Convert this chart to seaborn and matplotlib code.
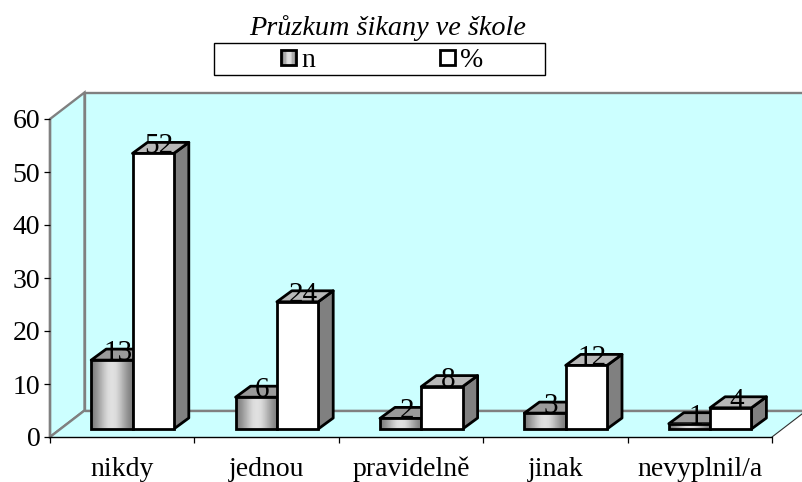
import numpy as np
import pandas as pd
import matplotlib
matplotlib.use("Agg")
import matplotlib.pyplot as plt
import seaborn as sns
from matplotlib.patches import Polygon, Rectangle
from matplotlib.transforms import Affine2D, IdentityTransform
from matplotlib.legend_handler import HandlerBase

categories = ["nikdy", "jednou", "pravidelně", "jinak", "nevyplnil/a"]
n_values = [13, 6, 2, 3, 1]
pct_values = [52, 24, 8, 12, 4]
series_names = ["n", "%"]
title_text = "Průzkum šikany ve škole"

sns.set_theme(style="white")
plt.rcParams["font.family"] = ["Liberation Serif", "DejaVu Serif"]
plt.rcParams["text.color"] = "black"

W, H = 803, 482
FS = 20
WALL = "#CCFFFF"
GREY = "#808080"

df = pd.DataFrame({
    "kategorie": categories * 2,
    "serie": [series_names[0]] * 5 + [series_names[1]] * 5,
    "hodnota": n_values + pct_values,
})

fig = plt.figure(figsize=(W / 100, H / 100), dpi=100, facecolor="white")
ax = fig.add_axes([50 / W, (H - 437) / H, 722 / W, 318 / H])
sns.barplot(data=df, x="kategorie", y="hodnota", hue="serie", hue_order=series_names,
            palette=["#BBBBBB", "white"], width=0.572, gap=0, dodge=True,
            edgecolor="black", linewidth=2, legend=False, errorbar=None,
            saturation=1, ax=ax)
ax.set_xlim(-0.5, 4.5)
ax.set_ylim(0, 60)
ax.set_xlabel("")
ax.set_ylabel("")
ax.patch.set_visible(False)
for s in ax.spines.values():
    s.set_visible(False)

# walls (depth offset in pixels)
DX, DY = 34.5, 26.5
LW = 1.7
back = ax.transAxes + Affine2D().translate(DX, DY)
ax.add_patch(Rectangle((0, 0), 1, 1, transform=back, fc=WALL, ec=GREY, lw=LW, zorder=0.2, clip_on=False))
px = lambda a, b: ax.transAxes.transform((a, b))
p00, p01, p10 = px(0, 0), px(0, 1), px(1, 0)
ident = IdentityTransform()
ax.add_patch(Polygon([p00, p01, p01 + (DX, DY), p00 + (DX, DY)], transform=ident,
                     fc=WALL, ec=GREY, lw=LW, zorder=0.3, clip_on=False))
ax.add_patch(Polygon([p00, p10, p10 + (DX, DY), p00 + (DX, DY)], transform=ident,
                     fc=WALL, ec="none", zorder=0.3, clip_on=False))
ax.plot([p00[0], p00[0] + DX], [p00[1], p00[1] + DY], color=GREY, lw=LW, transform=ident, zorder=0.4, clip_on=False)
ax.plot([p00[0] + DX, p10[0] + DX], [p00[1] + DY, p10[1] + DY], color=GREY, lw=LW, transform=ident, zorder=0.4, clip_on=False)
ax.plot([p00[0], p00[0]], [p00[1], p01[1]], color=GREY, lw=LW, transform=ident, zorder=0.5, clip_on=False)
ax.plot([p10[0], p10[0] + DX], [p10[1], p10[1] + DY], color="#303030", lw=0.8, transform=ident, zorder=0.5, clip_on=False)
ax.plot([p00[0], p10[0]], [p00[1], p10[1]], color="black", lw=1.0, transform=ident, zorder=0.6, clip_on=False)

# axis ticks
ax.set_yticks(np.arange(0, 61, 10))
ax.tick_params(axis="y", left=True, length=4, width=0.9, color="black", labelsize=FS, pad=3, labelcolor="black")
ax.set_xticks(range(5))
ax.set_xticklabels(categories)
ax.tick_params(axis="x", which="major", bottom=False, length=0, labelsize=FS, pad=14.3, labelcolor="black")
ax.set_xticks(np.arange(-0.5, 5), minor=True)
ax.tick_params(axis="x", which="minor", bottom=True, length=4, width=0.9, color="black")

# bars: pseudo-3D
SX, SY = 10.3, 8.0     # shift of the bar base from the front plane
BX, BY = 15.0, 11.0    # bar depth
shift = ax.transData + Affine2D().translate(SX, SY)
grad = np.array([[0.50, 0.58, 0.68, 0.78, 0.86, 0.88, 0.86, 0.78, 0.68, 0.58, 0.50]])
z = 2.0
series_cols = [("#808080", "#9A9A9A"), ("#808080", "#B8B8B8")]
label_vals = [n_values, pct_values]
for ci in range(5):
    for si, container in enumerate(ax.containers):
        patch = container.patches[ci]
        x, w, h = patch.get_x(), patch.get_width(), patch.get_height()
        a = shift.transform((x, 0)); b = shift.transform((x + w, 0))
        c = shift.transform((x + w, h)); d = shift.transform((x, h))
        v = np.array([BX, BY])
        side_c, top_c = series_cols[si]
        ax.add_patch(Polygon([b, c, c + v, b + v], transform=ident, fc=side_c, ec="black", lw=2,
                             joinstyle="round", zorder=z, clip_on=False))
        ax.add_patch(Polygon([d, c, c + v, d + v], transform=ident, fc=top_c, ec="black", lw=2,
                             joinstyle="round", zorder=z, clip_on=False))
        patch.set_transform(shift)
        patch.set_zorder(z + 0.2)
        patch.set_clip_on(False)
        if si == 0:
            patch.set_facecolor("none")
            im = ax.imshow(grad, extent=(x, x + w, 0, h), aspect="auto", cmap="gray", vmin=0, vmax=1,
                           transform=shift, zorder=z + 0.1, interpolation="bilinear")
            im.set_clip_on(False)
        z += 1
ax.set_xlim(-0.5, 4.5)
ax.set_ylim(0, 60)

# value labels
for si, container in enumerate(ax.containers):
    for ci, patch in enumerate(container.patches):
        ax.annotate(str(label_vals[si][ci]),
                    xy=(patch.get_x() + patch.get_width() / 2, patch.get_height()), xycoords=ax.transData,
                    xytext=((SX + 6) * 0.72, (SY + 0) * 0.72), textcoords="offset points",
                    ha="center", va="baseline", fontsize=21, color="black", zorder=100, clip_on=False)

# title
fig.text(387.5 / W, (H - 35) / H, title_text, ha="center", va="baseline", fontsize=20.3, style="italic", color="black")

# legend box
fig.add_artist(Rectangle((214.5 / W, (H - 75) / H), 330 / W, 32 / H, transform=fig.transFigure,
                         fc="white", ec="black", lw=1))


class GradHandler(HandlerBase):
    def __init__(self, grad_values=None):
        super().__init__()
        self.grad_values = grad_values

    def create_artists(self, legend, orig, xd, yd, width, height, fontsize, trans):
        s = fontsize * 0.54
        x0, y0 = -xd + width - s, -yd + (height - s) / 2
        arts = []
        if self.grad_values is not None:
            m = len(self.grad_values)
            for i, g in enumerate(self.grad_values):
                arts.append(Rectangle((x0 + i * s / m, y0), s / m + 0.3, s, fc=str(g), ec="none", transform=trans))
        arts.append(Rectangle((x0, y0), s, s, fc="none" if self.grad_values is not None else "white",
                              ec="black", lw=2, transform=trans))
        return arts


h1 = Rectangle((0, 0), 1, 1, label=series_names[0])
h2 = Rectangle((0, 0), 1, 1, label=series_names[1])
leg = fig.legend(handles=[h1, h2], ncol=2, loc="center", bbox_to_anchor=(382 / W, (H - 60.5) / H),
                 fontsize=FS, frameon=False,
                 handler_map={h1: GradHandler(list(grad[0])), h2: GradHandler()},
                 handlelength=0.55, handleheight=0.75, handletextpad=0.18, columnspacing=4.46,
                 borderpad=0, borderaxespad=0, labelspacing=0)
leg.set_zorder(10)

fig.savefig("out.png", dpi=100)
